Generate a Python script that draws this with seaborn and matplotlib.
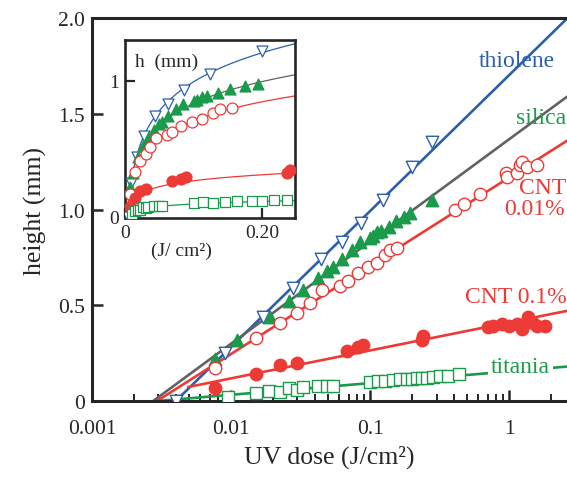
import numpy as np
import pandas as pd
import matplotlib
matplotlib.use("Agg")
import matplotlib.pyplot as plt
import seaborn as sns
from matplotlib.ticker import LogLocator, NullFormatter, FixedLocator

# --- data (dose in J/cm^2, height in mm) ---
thiolene_x = [0.004, 0.009, 0.017, 0.028, 0.044, 0.063, 0.086, 0.124, 0.20, 0.28]
thiolene_h = [0.0, 0.25, 0.44, 0.59, 0.74, 0.83, 0.93, 1.05, 1.22, 1.35]

silica_x = [0.0077, 0.011, 0.019, 0.026, 0.033, 0.042, 0.049, 0.054, 0.063, 0.074,
            0.085, 0.10, 0.105, 0.112, 0.12, 0.136, 0.153, 0.175, 0.194, 0.28]
silica_h = [0.22, 0.32, 0.44, 0.52, 0.58, 0.64, 0.68, 0.70, 0.74, 0.79,
            0.83, 0.85, 0.86, 0.88, 0.89, 0.91, 0.94, 0.96, 0.98, 1.05]

cnt001_x = [0.0077, 0.015, 0.0225, 0.030, 0.037, 0.045, 0.061, 0.069, 0.082, 0.097,
            0.112, 0.128, 0.139, 0.156, 0.41, 0.47, 0.62, 0.94, 0.97, 1.14,
            1.19, 1.23, 1.34, 1.59]
cnt001_h = [0.17, 0.33, 0.41, 0.46, 0.51, 0.58, 0.60, 0.625, 0.67, 0.70,
            0.72, 0.76, 0.79, 0.80, 1.0, 1.03, 1.08, 1.19, 1.17, 1.19,
            1.23, 1.25, 1.22, 1.23]

cnt01_x = [0.0077, 0.015, 0.0225, 0.030, 0.068, 0.082, 0.089, 0.237, 0.24, 0.70,
           0.77, 0.89, 1.0, 1.14, 1.23, 1.37, 1.49, 1.59, 1.82]
cnt01_h = [0.068, 0.14, 0.19, 0.20, 0.26, 0.28, 0.29, 0.32, 0.34, 0.385,
           0.39, 0.40, 0.39, 0.40, 0.375, 0.44, 0.41, 0.39, 0.39]

titania_x = [0.0095, 0.015, 0.0187, 0.0225, 0.026, 0.030, 0.033, 0.042, 0.049, 0.054,
             0.10, 0.114, 0.128, 0.146, 0.164, 0.185, 0.20, 0.218, 0.237, 0.257,
             0.284, 0.319, 0.364, 0.436]
titania_h = [0.02, 0.04, 0.05, 0.047, 0.068, 0.06, 0.073, 0.078, 0.078, 0.078,
             0.10, 0.105, 0.104, 0.109, 0.115, 0.115, 0.115, 0.12, 0.12, 0.12,
             0.125, 0.13, 0.13, 0.14]

# log fits h = slope * log10(x / x0), drawn from line_start on
series = ["thiolene", "silica", "CNT 0.01%", "CNT 0.1%", "titania"]
fit_x0 = [0.004, 0.00275, 0.00293, 0.00155, 0.00293]
fit_slope = [0.71, 0.534, 0.461, 0.146, 0.061]
line_start = [0.004, 0.00275, 0.00293, 0.0049, 0.00293]

BLUE, GREEN, RED, GREY = "#2b5fae", "#1a9a4a", "#ec3a36", "#626262"
line_colors = [BLUE, GREY, RED, RED, GREEN]
mark_colors = [BLUE, GREEN, RED, RED, GREEN]
markers = ["v", "^", "o", "o", "s"]
filled = [False, True, False, True, False]
xs = [thiolene_x, silica_x, cnt001_x, cnt01_x, titania_x]
hs = [thiolene_h, silica_h, cnt001_h, cnt01_h, titania_h]

XMAX = 2.6

sns.set_style("ticks")
plt.rcParams['font.family'] = ['Liberation Serif', 'DejaVu Serif']

fig = plt.figure(figsize=(5.67, 4.81), dpi=100)
ax = fig.add_axes([0.1623, 0.1642, 0.8377, 0.7963])
axin = fig.add_axes([0.2205, 0.5447, 0.2998, 0.370])

for i, name in enumerate(series):
    # fit lines
    lx = np.logspace(np.log10(line_start[i]), np.log10(XMAX), 60)
    df_l = pd.DataFrame({"x": lx, "h": fit_slope[i] * np.log10(lx / fit_x0[i])})
    sns.lineplot(data=df_l, x="x", y="h", ax=ax, color=line_colors[i], lw=1.9, zorder=2)
    ix = np.linspace(line_start[i], 0.26, 300)
    df_i = pd.DataFrame({"x": ix, "h": fit_slope[i] * np.log10(ix / fit_x0[i])})
    sns.lineplot(data=df_i, x="x", y="h", ax=axin, color=line_colors[i], lw=0.9, zorder=2)

    # points
    df_p = pd.DataFrame({"x": xs[i], "h": hs[i]})
    fc = mark_colors[i] if filled[i] else "white"
    sns.scatterplot(data=df_p, x="x", y="h", ax=ax, marker=markers[i], s=80,
                    facecolor=fc, edgecolor=mark_colors[i], linewidth=1.0, zorder=3)
    df_pi = df_p[df_p["x"] < 0.25]
    sns.scatterplot(data=df_pi, x="x", y="h", ax=axin, marker=markers[i], s=62,
                    facecolor=fc, edgecolor=mark_colors[i], linewidth=0.9, zorder=3)

# main axes
ax.set_xscale("log")
ax.set_xlim(0.001, XMAX)
ax.set_ylim(0, 2.0)
ax.xaxis.set_major_locator(FixedLocator([0.001, 0.01, 0.1, 1]))
ax.set_xticklabels(["0.001", "0.01", "0.1", "1"])
ax.xaxis.set_minor_locator(LogLocator(base=10, subs=np.arange(2, 10)))
ax.xaxis.set_minor_formatter(NullFormatter())
ax.set_yticks([0, 0.5, 1.0, 1.5, 2.0])
ax.set_yticklabels(["0", "0.5", "1.0", "1.5", "2.0"])
ax.tick_params(axis="both", which="major", direction="in", length=8, width=1.8,
               labelsize=15.5, top=False, right=False)
ax.tick_params(axis="x", which="major", pad=13)
ax.tick_params(axis="y", which="major", pad=5)
ax.tick_params(axis="x", which="minor", direction="in", length=5, width=1.4)
for s in ["left", "bottom", "top"]:
    ax.spines[s].set_linewidth(2.2)
ax.spines["right"].set_visible(False)
ax.set_xlabel("UV dose (J/cm²)", fontsize=18.5, labelpad=5)
ax.set_ylabel("height (mm)", fontsize=18.5, labelpad=8)

lab = dict(fontsize=17, ha="center", va="center")
ax.text(1.13, 1.78, "thiolene", color=BLUE, **lab)
ax.text(1.68, 1.48, "silica", color=GREEN, **lab)
ax.text(1.74, 1.115, "CNT", color=RED, **lab)
ax.text(1.52, 1.005, "0.01%", color=RED, **lab)
ax.text(1.12, 0.547, "CNT 0.1%", color=RED, **lab)
ax.text(1.2, 0.18, "titania", color=GREEN, zorder=4,
        bbox=dict(facecolor="white", edgecolor="none", pad=2), **lab)

# inset
axin.set_xlim(0, 0.248)
axin.set_ylim(-0.01, 1.3)
axin.set_xticks([0, 0.2])
axin.set_xticklabels(["0", "0.20"])
axin.set_yticks([0, 1])
axin.set_yticklabels(["0", "1"])
axin.tick_params(direction="in", length=7, width=1.6, labelsize=14, pad=4)
for s in axin.spines.values():
    s.set_linewidth(1.9)
axin.set_xlabel("")
axin.set_ylabel("")
axin.text(0.06, 0.88, "h  (mm)", transform=axin.transAxes, fontsize=14, va="center")
axin.text(0.33, -0.18, "(J/ cm²)", transform=axin.transAxes, fontsize=14,
          ha="center", va="center")

fig.savefig("out.png", dpi=100)
